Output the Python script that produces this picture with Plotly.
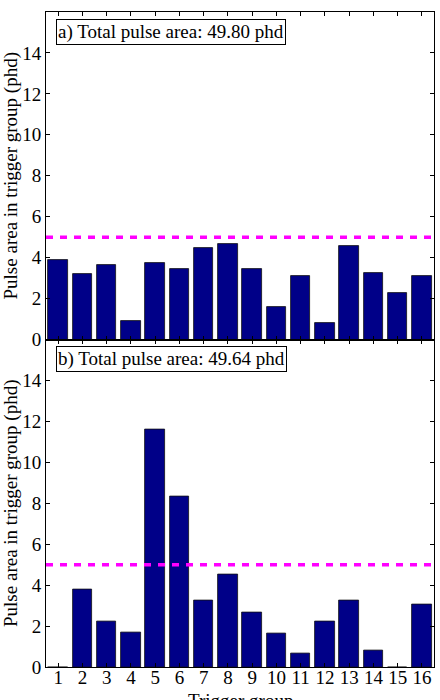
import plotly.graph_objects as go

groups = list(range(1, 17))
area_a = [3.89, 3.20, 3.66, 0.88, 3.73, 3.45, 4.48, 4.69, 3.46, 1.60, 3.09, 0.83, 4.59, 3.27, 2.29, 3.10]
area_b = [0.0, 3.78, 2.20, 1.69, 11.60, 8.31, 3.23, 4.51, 2.66, 1.66, 0.65, 2.23, 3.26, 0.81, 0.0, 3.05]
threshold = 5
label_a = "a) Total pulse area: 49.80 phd"
label_b = "b) Total pulse area: 49.64 phd"
ytick_vals = [0, 2, 4, 6, 8, 10, 12, 14]
x_title = "Trigger group"
y_title = "Pulse area in trigger group (phd)"

FONT = "'Times New Roman', 'Liberation Serif', 'DejaVu Serif', serif"
BAR = "#000088"

fig = go.Figure()
for area, xa, ya in [(area_a, "x", "y"), (area_b, "x2", "y2")]:
    fig.add_trace(go.Bar(x=groups, y=area, width=0.8, xaxis=xa, yaxis=ya,
                         marker=dict(color=BAR, line=dict(color="#111111", width=0.8)),
                         showlegend=False))
    fig.add_trace(go.Scatter(x=[0.5, 16.5], y=[threshold, threshold], mode="lines",
                             xaxis=xa, yaxis=ya,
                             line=dict(color="#FF00FF", width=3.5, dash="7px,7px"),
                             showlegend=False))

# invisible trace carrying the tick-label axis of the lower panel
fig.add_trace(go.Scatter(x=groups, y=area_b, xaxis="x3", yaxis="y2", mode="markers",
                         marker=dict(opacity=0), hoverinfo="skip", showlegend=False))

axis_common = dict(showline=True, linecolor="black", linewidth=1, mirror="ticks",
                   ticks="inside", ticklen=4, tickwidth=1, tickcolor="black",
                   showgrid=False, zeroline=False, automargin=False,
                   tickfont=dict(family=FONT, size=19, color="black"))

title_font = dict(family=FONT, size=19, color="black")

fig.update_layout(
    width=440, height=700,
    margin=dict(l=46, r=6, t=12, b=33),
    paper_bgcolor="white", plot_bgcolor="white",
    bargap=0,
    font=dict(family=FONT, size=19, color="black"),
    xaxis=dict(domain=[0, 1], anchor="y", range=[0.5, 16.5], tickvals=groups,
               showticklabels=False, **axis_common),
    yaxis=dict(domain=[0.5, 1], anchor="x", range=[0, 16], tickvals=ytick_vals,
               title=dict(text=y_title, standoff=4, font=title_font),
               **axis_common),
    xaxis2=dict(domain=[0, 1], anchor="y2", range=[0.5, 16.5], tickvals=groups,
                showticklabels=False, **axis_common),
    xaxis3=dict(overlaying="x2", anchor="free", position=0.005, side="bottom",
                range=[0.5, 16.5], tickvals=groups, showline=False, ticks="",
                showgrid=False, zeroline=False, automargin=False,
                tickfont=dict(family=FONT, size=19, color="black")),
    yaxis2=dict(domain=[0, 0.5], anchor="x2", range=[0, 16], tickvals=ytick_vals,
                title=dict(text=y_title, standoff=4, font=title_font),
                **axis_common),
)

fig.add_annotation(text=x_title, xref="paper", yref="paper", x=0.5, y=-0.032,
                   xanchor="center", yanchor="top", showarrow=False, font=title_font)

for label, xr, yr in [(label_a, "x domain", "y domain"), (label_b, "x2 domain", "y2 domain")]:
    fig.add_annotation(text=label, xref=xr, yref=yr, x=0.026, y=0.979,
                       xanchor="left", yanchor="top", showarrow=False,
                       bordercolor="black", borderwidth=1, borderpad=1,
                       bgcolor="white", font=dict(family=FONT, size=19, color="black"))

fig.write_html("out.html")
